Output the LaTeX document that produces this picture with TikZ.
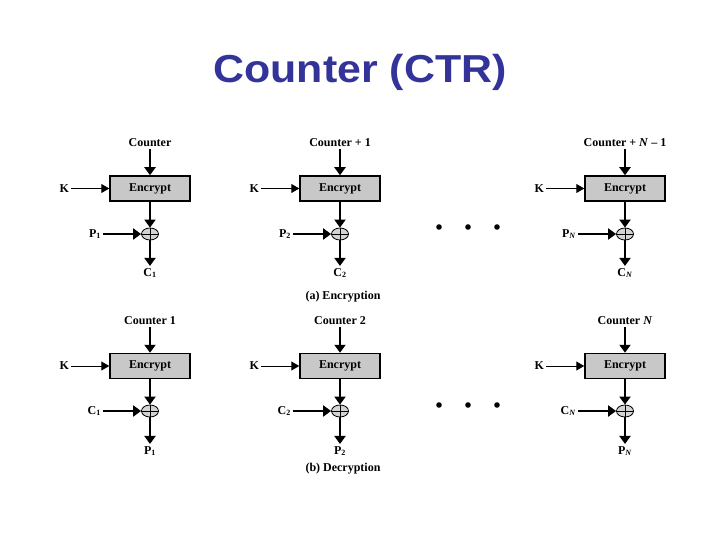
\documentclass[tikz,border=0pt]{standalone}
\usepackage{fontspec}
\setmainfont{Liberation Serif}
\newfontfamily\titlefont{Liberation Sans}
\usetikzlibrary{arrows.meta, positioning, shapes.geometric}
\definecolor{titleblue}{RGB}{51,51,153}
\definecolor{boxgray}{RGB}{200,200,200}

\begin{document}
\begin{tikzpicture}[x=1pt, y=-1pt, font=\fontsize{12}{14}\selectfont\bfseries,
    encbox/.style={draw, line width=1.5pt, fill=boxgray, minimum width=80pt,
                   minimum height=25pt, inner sep=0pt},
    xorop/.style={draw, ellipse, line width=0.8pt, fill=boxgray!80,
                  minimum width=17pt, minimum height=12pt, inner sep=0pt},
    thick arrow/.style={line width=2pt, -{Triangle[length=8pt, width=11pt]}},
    thin arrow/.style={line width=1pt, -{Triangle[length=8pt, width=9pt]}},
    lbl/.style={inner sep=2pt}]
  \useasboundingbox (0,0) rectangle (720,540);

  \node[font=\titlefont\fontsize{39}{44}\selectfont\bfseries, text=titleblue,
        xscale=1.1, anchor=base] (title) at (360,83) {Counter (CTR)};

  % (a) encryption row
  \foreach \i/\cx/\ctr/\pin/\cout in {1/150/{Counter}/{P\textsubscript{1}}/{C\textsubscript{1}},
      2/340/{Counter + 1}/{P\textsubscript{2}}/{C\textsubscript{2}},
      N/625/{Counter + \textit{N} -- 1}/{P\textsubscript{\textit{N}}}/{C\textsubscript{\textit{N}}}} {
    \node[encbox] (ea\i) at (\cx,188.5) {Encrypt};
    \node[lbl] (ca\i) at (\cx,143) {\ctr};
    \node[lbl, left=38pt of ea\i] (ka\i) {K};
    \node[xorop] (xa\i) at (\cx,234) {};
    \draw[line width=0.8pt] (xa\i.north) -- (xa\i.south) (xa\i.west) -- (xa\i.east);
    \node[lbl, left=38pt of xa\i] (pa\i) {\pin};
    \node[lbl] (oa\i) at (\cx,273) {\cout};
    \draw[thick arrow] (ca\i.south) -- (ea\i.north);
    \draw[thin arrow] (ka\i.east) -- (ea\i.west);
    \draw[thick arrow] (ea\i.south) -- (xa\i.north);
    \draw[thick arrow] (pa\i.east) -- (xa\i.west);
    \draw[thick arrow] (xa\i.south) -- (oa\i.north);
  }
  \node (capa) at (343,297) {(a) Encryption};

  % (b) decryption row
  \foreach \i/\cx/\ctr/\pin/\cout in {1/150/{Counter 1}/{C\textsubscript{1}}/{P\textsubscript{1}},
      2/340/{Counter 2}/{C\textsubscript{2}}/{P\textsubscript{2}},
      N/625/{Counter \textit{N}}/{C\textsubscript{\textit{N}}}/{P\textsubscript{\textit{N}}}} {
    \node[encbox] (eb\i) at (\cx,366) {Encrypt};
    \node[lbl] (cb\i) at (\cx,321) {\ctr};
    \node[lbl, left=38pt of eb\i] (kb\i) {K};
    \node[xorop] (xb\i) at (\cx,411) {};
    \draw[line width=0.8pt] (xb\i.north) -- (xb\i.south) (xb\i.west) -- (xb\i.east);
    \node[lbl, left=38pt of xb\i] (pb\i) {\pin};
    \node[lbl] (ob\i) at (\cx,451) {\cout};
    \draw[thick arrow] (cb\i.south) -- (eb\i.north);
    \draw[thin arrow] (kb\i.east) -- (eb\i.west);
    \draw[thick arrow] (eb\i.south) -- (xb\i.north);
    \draw[thick arrow] (pb\i.east) -- (xb\i.west);
    \draw[thick arrow] (xb\i.south) -- (ob\i.north);
  }
  \node (capb) at (343,469) {(b) Decryption};

  % ellipsis dots
  \foreach \dx in {439,468,497} {
    \fill (\dx,227) circle (2.8pt);
    \fill (\dx,405) circle (2.8pt);
  }
\end{tikzpicture}
\end{document}
